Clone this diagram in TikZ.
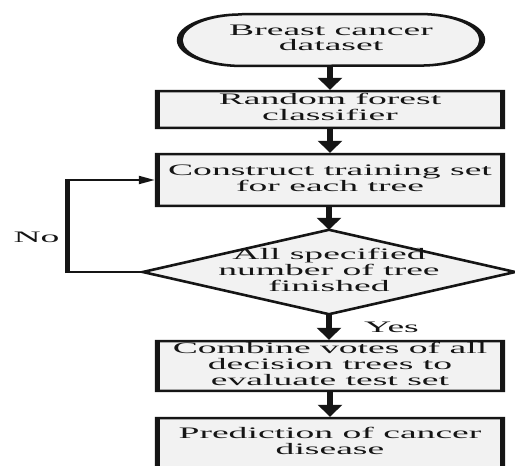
\documentclass[tikz,border=0pt]{standalone}
\usepackage{fontspec}
\setmainfont{Liberation Serif}
\usepackage{graphicx}
\usetikzlibrary{arrows.meta,calc}
\definecolor{ink}{HTML}{151515}
\definecolor{boxfill}{HTML}{F2F2F2}
\newcommand\stx[1]{\scalebox{2.35}[1]{\begin{tabular}{@{}c@{}}#1\end{tabular}}}
\newcommand\pframe[1]{\fill[ink,even odd rule] (#1.north west) rectangle (#1.south east) ([shift={(5pt,-2.5pt)}]#1.north west) rectangle ([shift={(-5pt,2.5pt)}]#1.south east);}
\begin{document}
\begin{tikzpicture}[x=1pt,y=-1pt,
  txt/.style={font=\fontsize{16}{15.5}\selectfont, text=ink, inner sep=0pt},
  procbox/.style={txt, fill=boxfill, minimum width=350pt},
  varrow/.style={ink, line width=6pt, -{Triangle[width=24pt,length=12pt]}},
  harrow/.style={ink, line width=2pt, -{Triangle[width=8pt,length=16pt]}},
  thinline/.style={ink, line width=2pt},
  thickline/.style={ink, line width=5pt, shorten <=-1pt, shorten >=-1pt}
]
\useasboundingbox[fill=white] (0,0) rectangle (515,466);

% terminal
\node[txt, minimum width=308pt, minimum height=54pt] (start) at (331,40) {};
\fill[boxfill] ($(start.north west)+(65,0)$) -- ($(start.north east)+(-65,0)$)
  arc[start angle=-90,end angle=90,x radius=65,y radius=27]
  -- ($(start.south west)+(65,0)$)
  arc[start angle=90,end angle=270,x radius=65,y radius=27] -- cycle;
\fill[ink,even odd rule]
  ($(start.north west)+(65,0)$) -- ($(start.north east)+(-65,0)$)
  arc[start angle=-90,end angle=90,x radius=65,y radius=27]
  -- ($(start.south west)+(65,0)$)
  arc[start angle=90,end angle=270,x radius=65,y radius=27] -- cycle
  ($(start.north west)+(65,2.5)$) -- ($(start.north east)+(-65,2.5)$)
  arc[start angle=-90,end angle=90,x radius=59,y radius=24.5]
  -- ($(start.south west)+(65,-2.5)$)
  arc[start angle=90,end angle=270,x radius=59,y radius=24.5] -- cycle;
\node[txt] at (start.center) {\stx{Breast cancer\\dataset}};

% process boxes
\node[procbox, minimum height=39pt] (b1) at (330,109.5) {\stx{Random forest\\classifier}};
\pframe{b1}
\node[procbox, minimum height=54pt] (b2) at (330,180) {\stx{Construct training set\\for each tree}};
\pframe{b2}

% decision
\node[txt, minimum width=372pt, minimum height=84pt] (dec) at (329,272) {};
\filldraw[fill=boxfill, draw=ink, line width=2.6pt, line join=miter]
  (dec.west) -- (dec.north) -- (dec.east) -- (dec.south) -- cycle;
\node[txt] at (dec.center) {\stx{All specified\\number of tree\\finished}};

\node[procbox, minimum height=52pt] (b3) at (330,366) {\stx{Combine votes of all\\decision trees to\\evaluate test set}};
\pframe{b3}
\node[procbox, minimum height=53pt] (b4) at (330,443.5) {\stx{Prediction of cancer\\disease}};
\pframe{b4}

% connectors
\draw[varrow] (start.south -| b1.north) -- (b1.north);
\draw[varrow] (b1.south) -- (b2.north);
\draw[varrow] (b2.south -| dec.north) -- (dec.north);
\draw[varrow] (dec.south) -- (dec.south |- b3.north);
\draw[varrow] (b3.south) -- (b4.north);

\coordinate (lb) at (67,272);
\coordinate (lt) at (67,180);
\draw[thinline] (dec.west) -- (lb);
\draw[thickline] (lb) -- (lt);
\draw[harrow] (lt) -- (b2.west);

% labels
\node[txt] (lno) at (36.5,237.5) {\scalebox{2.35}[1]{No}};
\node[txt] (lyes) at (391.5,327) {\scalebox{2.35}[1]{Yes}};
\end{tikzpicture}
\end{document}
